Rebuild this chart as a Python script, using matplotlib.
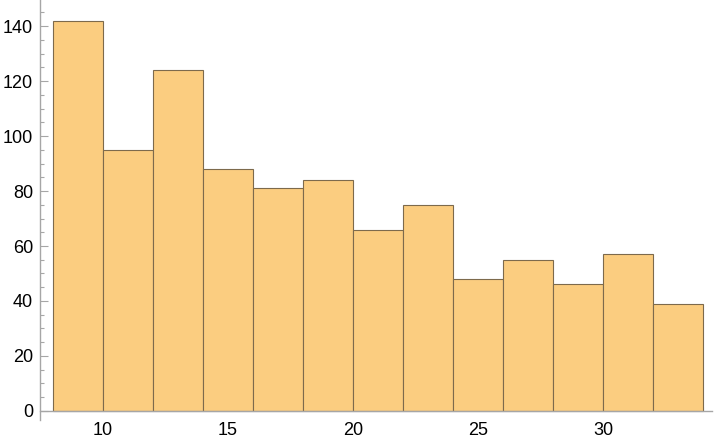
import matplotlib.pyplot as plt
from matplotlib.ticker import MultipleLocator

# histogram bins (width 2) and counts
bin_edges = [8, 10, 12, 14, 16, 18, 20, 22, 24, 26, 28, 30, 32, 34]
counts = [142, 95, 124, 88, 81, 84, 66, 75, 48, 55, 46, 57, 39]

plt.rcParams['font.family'] = ['Liberation Sans', 'DejaVu Sans']

fig = plt.figure(figsize=(7.2, 4.46), dpi=100)
ax = fig.add_axes([40 / 720, 26 / 446, 672 / 720, 420 / 446])

lefts = bin_edges[:-1]
widths = [b - a for a, b in zip(bin_edges[:-1], bin_edges[1:])]
ax.bar(lefts, counts, width=widths, align='edge',
       color='#fbcd80', edgecolor='#7d6a4c', linewidth=0.8, zorder=2)

ax.set_xlim(7.48, 34.36)
ax.set_ylim(-3.3, 149.5)

for s in ['top', 'right']:
    ax.spines[s].set_visible(False)
ax.spines['bottom'].set_position(('data', 0))
for s in ['left', 'bottom']:
    ax.spines[s].set_color('#a6a6a6')
    ax.spines[s].set_linewidth(1.0)

ax.xaxis.set_major_locator(MultipleLocator(5))
ax.xaxis.set_minor_locator(MultipleLocator(1))
ax.yaxis.set_major_locator(MultipleLocator(20))
ax.yaxis.set_minor_locator(MultipleLocator(5))
ax.set_yticks([0, 20, 40, 60, 80, 100, 120, 140])

ax.tick_params(which='major', direction='in', length=6, width=0.8,
               color='#a6a6a6', labelsize=13, pad=5)
ax.tick_params(which='minor', direction='in', length=3.2, width=0.8,
               color='#a6a6a6')
ax.tick_params(axis='x', which='major', pad=8)

fig.savefig('out.png', dpi=100)
